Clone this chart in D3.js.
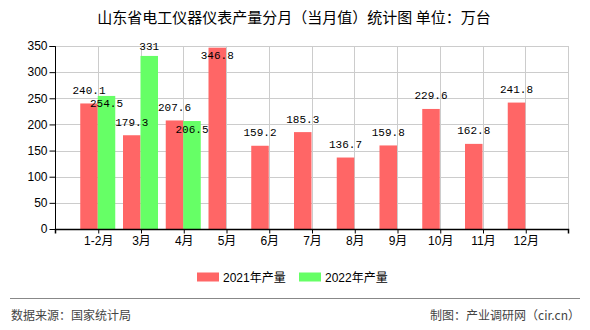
<!DOCTYPE html>
<html>
<head>
<meta charset="utf-8">
<script src="https://cdn.jsdelivr.net/npm/d3@7/dist/d3.min.js"></script>
<style>
  html, body { margin: 0; padding: 0; background: #fff; }
  svg { display: block; }
</style>
</head>
<body>
<div id="chart"></div>
<script>
// Monthly output of electrical instruments in Shandong (10k units)
const categories = ["1-2月", "3月", "4月", "5月", "6月", "7月", "8月", "9月", "10月", "11月", "12月"];
const values2021 = [240.1, 179.3, 207.6, 346.8, 159.2, 185.3, 136.7, 159.8, 229.6, 162.8, 241.8];
const values2022 = [254.5, 331, 206.5];
const seriesNames = ["2021年产量", "2022年产量"];
const seriesColors = ["#FF6666", "#66FF66"];
const yTicks = [0, 50, 100, 150, 200, 250, 300, 350];

const W = 590, H = 330;
const plot = { left: 55, right: 568, top: 46, bottom: 229 };
const cjk = "'Noto Sans CJK SC', 'Liberation Sans', sans-serif";
const sans = "'Liberation Sans', Arial, 'Noto Sans CJK SC', sans-serif";
const mono = "'Liberation Mono', 'DejaVu Sans Mono', monospace";

const svg = d3.select("#chart").append("svg")
  .attr("width", W).attr("height", H);

// Title
svg.append("text")
  .attr("x", 294).attr("y", 23)
  .attr("text-anchor", "middle")
  .style("font-family", cjk).style("font-size", "15px").attr("fill", "#000")
  .text("山东省电工仪器仪表产量分月（当月值）统计图 单位：万台");

const x = d3.scalePoint().domain(categories)
  .range([plot.left, plot.right]).padding(1);
const y = d3.scaleLinear().domain([0, 350]).range([plot.bottom, plot.top]);

// Grid
const grid = svg.append("g").attr("stroke", "#cccccc").attr("stroke-width", 1);
yTicks.filter(t => t > 0).forEach(t => {
  grid.append("line")
    .attr("x1", plot.left).attr("x2", plot.right)
    .attr("y1", Math.round(y(t)) + 0.5).attr("y2", Math.round(y(t)) + 0.5);
});
categories.forEach(c => {
  grid.append("line")
    .attr("x1", Math.round(x(c)) + 0.5).attr("x2", Math.round(x(c)) + 0.5)
    .attr("y1", plot.top).attr("y2", plot.bottom);
});
grid.append("line")
  .attr("x1", plot.right + 0.5).attr("x2", plot.right + 0.5)
  .attr("y1", plot.top).attr("y2", plot.bottom);

// Bars
const barW = 17.5;
const series = [values2021, values2022];
const barsG = svg.append("g");
series.forEach((vals, si) => {
  barsG.selectAll(null).data(vals).enter().append("rect")
    .attr("x", (d, i) => x(categories[i]) - (si === 0 ? barW : 0))
    .attr("width", barW)
    .attr("y", d => y(d))
    .attr("height", d => y(0) - y(d))
    .attr("fill", seriesColors[si]);
});

// Axes
const yAxis = d3.axisLeft(y).tickValues(yTicks).tickSize(6).tickPadding(2);
const yg = svg.append("g").attr("transform", `translate(${plot.left + 0.5},0)`).call(yAxis);
yg.selectAll("text").style("font-family", sans).style("font-size", "12px").attr("fill", "#000");
yg.select(".domain").attr("d", `M-6,${plot.top + 0.5}H0V${plot.bottom + 0.5}`).attr("stroke", "#000");
yg.selectAll(".tick line").attr("stroke", "#000");

const xAxis = d3.axisBottom(x).tickSize(4).tickPadding(3).tickSizeOuter(4);
const xg = svg.append("g").attr("transform", `translate(0.5,${plot.bottom + 0.5})`).call(xAxis);
xg.select(".domain").attr("d", `M${plot.left},4V0H${plot.right}V4`).attr("stroke", "#000").attr("stroke-width", 1.5);
xg.selectAll(".tick line").attr("stroke", "#000");
xg.selectAll("text").style("font-family", sans).style("font-size", "12px").attr("fill", "#000");

// Value labels: above the bar top, moved inside the bar when they collide
const labH = 11, charW = 6.4;
const placed = [];
function box(cx, cy, txt) {
  const w = txt.length * charW;
  return { x0: cx - w / 2, x1: cx + w / 2, y0: cy - labH / 2, y1: cy + labH / 2 };
}
function hits(b) {
  return placed.some(p => b.x0 < p.x1 && b.x1 > p.x0 && b.y0 < p.y1 && b.y1 > p.y0);
}
const labelsG = svg.append("g")
  .style("font-family", mono).style("font-size", "11px").attr("fill", "#000");
series.forEach((vals, si) => {
  vals.forEach((v, i) => {
    const cx = x(categories[i]) + (si === 0 ? -barW / 2 : barW / 2);
    const txt = String(v);
    let cy = y(v) - 12.5;
    if (cy < plot.top - 5) cy = y(v) + 8.5;
    else {
      cy = Math.max(cy, plot.top + 0.5);
      if (hits(box(cx, cy, txt))) cy = y(v) + 8.5;
    }
    placed.push(box(cx, cy, txt));
    labelsG.append("text")
      .attr("x", cx).attr("y", cy)
      .attr("text-anchor", "middle").attr("dominant-baseline", "central")
      .text(txt);
  });
});

// Legend
const legend = svg.append("g");
const legendX = [197, 299];
seriesNames.forEach((name, i) => {
  legend.append("rect")
    .attr("x", legendX[i]).attr("y", 272.5).attr("width", 22).attr("height", 9)
    .attr("fill", seriesColors[i]);
  legend.append("text")
    .attr("x", legendX[i] + 26).attr("y", 281.5)
    .style("font-family", sans).style("font-size", "12px").attr("fill", "#000")
    .text(name);
});

// Footer
svg.append("line")
  .attr("x1", 10).attr("x2", 580).attr("y1", 298.5).attr("y2", 298.5)
  .attr("stroke", "#888").attr("stroke-width", 1);
svg.append("text")
  .attr("x", 11).attr("y", 320)
  .style("font-family", cjk).style("font-size", "12px").attr("fill", "#444")
  .text("数据来源：国家统计局");
svg.append("text")
  .attr("x", 580).attr("y", 320).attr("text-anchor", "end")
  .style("font-family", cjk).style("font-size", "12px").attr("fill", "#444")
  .text("制图：产业调研网（cir.cn）");
</script>
</body>
</html>
